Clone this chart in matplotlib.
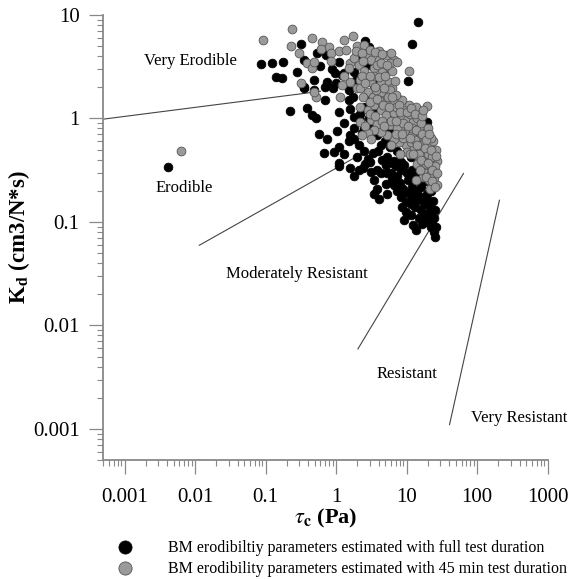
import matplotlib
matplotlib.use("Agg")
import matplotlib.pyplot as plt

plt.rcParams['font.family'] = ['Liberation Serif', 'DejaVu Serif']
plt.rcParams['mathtext.fontset'] = 'stix'

# ---- data: full test duration (black) ----
full_tau = [14.5, 11.8, 0.086, 0.125, 0.177, 0.14, 0.17, 0.32, 0.35, 0.53, 0.73, 0.88, 0.97, 1.3,
            0.49, 0.35, 0.75, 2.6, 2.9, 2.0, 2.8, 5.1, 3.85, 10.5, 1.9, 3.45, 1.23, 0.49,
            0.22, 0.39, 0.46, 0.52, 0.69, 1.1, 1.6, 1.76, 1.8, 2.2, 0.89, 0.35, 0.57, 0.75, 1.02,
            0.68, 0.94, 1.1, 1.8, 2.1, 2.8, 1.1, 2.9, 3.1, 3.85, 5.3, 7.4, 4.3, 5.9, 7.4, 5.3,
            9.2, 8.3, 11.4, 15.8, 19.5, 1.6, 2.5, 3.3, 5.1, 6.6, 1.8, 2.5, 1.5,
            1.1, 1.6, 1.8, 2.1, 2.6, 3.45, 3.85, 3.45, 4.1, 5.1, 5.3, 5.1, 5.3, 6.6, 7.4, 8.3,
            8.7, 9.7, 9.2, 11.4, 12.5, 13.5, 15.8, 17.5, 19.5, 20.6, 22.3, 24.5, 25.5, 24.5,
            21.8, 17.5, 14.2, 11.4, 9.7, 7.4, 8.3, 10.5, 14.2, 15.8, 19.5, 25.5, 4.3, 6.6, 9.2, 3.1,
            4.0, 6.0, 8.0, 12.0, 3.0, 5.0, 10.0, 13.0, 18.0, 20.0, 22.0, 16.0, 12.0,
            1.3, 1.5, 2.3, 1.3, 2.0, 2.4, 3.0, 3.8, 4.5, 3.9, 6.0, 7.0, 6.2, 8.0, 9.0, 10.5,
            12.0, 13.0, 15.0, 16.5, 18.5, 21.0, 23.0, 26.0, 24.0, 20.0, 11.0, 12.0, 16.0,
            0.7, 1.0, 1.5, 2.4, 1.8, 0.28, 0.6, 1.1, 2.2, 2.6, 3.4, 4.0, 5.0,
            0.0041]
full_kd = [8.5, 5.2, 3.35, 3.45, 3.53, 2.53, 2.44, 5.2, 3.7, 4.3, 4.1, 2.98, 2.73, 2.73,
           2.35, 2.0, 2.26, 5.6, 4.9, 4.1, 3.3, 2.9, 2.44, 2.3, 2.35, 2.1, 2.63, 1.88,
           1.18, 1.25, 1.08, 1.0, 1.5, 1.16, 1.23, 1.62, 1.04, 0.96, 1.95, 1.95, 0.70, 0.64, 0.75,
           0.46, 0.475, 0.53, 0.64, 0.56, 0.41, 0.37, 1.0, 0.8, 0.69, 1.0, 1.56, 0.55, 0.53, 0.49, 0.425,
           0.64, 0.38, 0.425, 0.39, 0.93, 0.69, 0.49, 0.46, 0.365, 0.39, 0.8, 0.8, 1.5,
           0.345, 0.335, 0.28, 0.315, 0.365, 0.253, 0.21, 0.188, 0.168, 0.235, 0.188, 0.353, 0.294, 0.226, 0.2, 0.174,
           0.14, 0.125, 0.104, 0.116, 0.093, 0.083, 0.13, 0.112, 0.12, 0.1, 0.089, 0.08, 0.071, 0.108,
           0.14, 0.15, 0.162, 0.15, 0.156, 0.28, 0.315, 0.253, 0.2, 0.174, 0.188, 0.13, 0.294, 0.365, 0.353, 0.305,
           1.3, 0.8, 0.6, 0.5, 1.6, 0.6, 0.3, 0.3, 0.25, 0.3, 0.2, 0.22, 0.22,
           0.9, 0.6, 0.72, 0.45, 0.42, 0.33, 0.38, 0.32, 0.4, 0.48, 0.3, 0.35, 0.26, 0.24, 0.21, 0.19,
           0.18, 0.14, 0.11, 0.095, 0.1, 0.12, 0.095, 0.09, 0.16, 0.16, 0.27, 0.32, 0.28,
           2.0, 2.2, 1.9, 2.3, 2.8, 2.8, 3.2, 3.5, 1.1, 1.3, 1.15, 0.9, 0.75,
           0.34]

# ---- data: 45 min test duration (gray) ----
m45_tau = [0.093, 0.24, 0.23, 0.46, 0.64, 0.8, 0.61, 0.84, 0.86, 0.3, 0.39, 0.46, 0.49, 0.32,
           1.3, 1.74, 2.0, 2.5, 1.6, 1.8, 1.5, 2.1, 2.8, 3.1, 4.1, 5.3, 6.6, 5.8, 4.8, 6.3, 3.45,
           2.5, 10.8, 1.6, 2.2, 3.1, 4.3, 5.6, 6.3, 2.0,
           0.52, 0.49, 1.14, 2.2, 2.8, 3.3, 4.3, 5.9, 5.1, 6.6, 8.7, 10.8, 13.5, 19.6, 2.2, 2.8,
           3.45, 4.3, 5.1, 6.6, 8.3, 10.2, 12.5, 15.8, 18.6, 2.2, 3.1, 3.85, 5.9, 8.3, 10.2, 12.0,
           14.6, 17.5, 21.8, 24.5, 19.5, 15.8, 12.5, 9.7, 7.8, 6.6, 5.3, 4.3, 3.45, 2.8, 2.35, 3.1,
           11.4, 13.9, 18.6, 21.8, 27.0, 10.2, 7.4,
           14.2, 17.5, 21.8, 25.5, 24.5, 20.6, 16.8, 13.5, 27.0, 21.8, 18.6,
           4.0, 7.0, 9.0, 11.0, 14.0, 16.0, 20.0, 6.0, 9.0, 12.0, 3.0, 4.5, 7.0, 9.0, 13.0, 16.0,
           20.0, 23.0, 11.0, 15.0, 17.0, 25.0, 22.0, 19.0, 3.5, 4.5, 2.3, 7.0, 3.7, 1.3, 5.5,
           24.0, 22.0, 26.0, 4.0, 3.0, 1.1, 1.2, 2.6, 6.0, 8.0,
           1.4, 1.9, 2.3, 3.6, 4.5, 6.0, 7.2, 2.4, 3.8, 4.4, 5.2, 3.0, 4.0, 5.0, 6.8, 2.6, 3.6,
           4.8, 2.4, 3.0, 3.8, 4.6, 5.6, 6.2, 7.8, 8.0, 10.0, 11.5, 13.0, 16.5, 17.0, 3.6, 4.8,
           7.0, 10.5, 13.5, 16.5, 19.0, 21.0, 8.5, 11.0, 14.0, 18.0, 22.5, 26.0, 12.5, 16.0,
           20.0, 23.0, 27.0, 15.5, 19.0, 23.0, 25.0,
           0.0063]
m45_kd = [5.7, 7.3, 5.0, 6.0, 5.5, 4.9, 4.7, 4.25, 3.6, 4.25, 3.4, 3.05, 3.55, 2.2,
          5.7, 6.2, 5.0, 5.1, 3.4, 3.8, 3.05, 3.3, 3.95, 3.7, 3.7, 4.1, 3.7, 3.4, 3.05, 2.9, 3.05,
          2.9, 2.9, 2.26, 2.35, 2.26, 2.26, 2.26, 1.95, 1.95,
          1.62, 1.8, 1.62, 1.95, 1.8, 1.62, 1.8, 1.88, 1.5, 1.45, 1.5, 1.35, 1.3, 1.32, 1.3, 1.2,
          1.35, 1.2, 1.08, 1.12, 1.04, 0.96, 0.93, 0.83, 0.74, 0.93, 0.96, 0.89, 0.86, 0.8, 0.74, 0.69,
          0.64, 0.59, 0.57, 0.475, 0.49, 0.51, 0.53, 0.55, 0.59, 0.64, 0.69, 0.74, 0.77, 0.72, 0.69, 0.64,
          0.59, 0.44, 0.41, 0.38, 0.39, 0.475, 0.8,
          0.365, 0.34, 0.353, 0.305, 0.263, 0.253, 0.27, 0.253, 0.226, 0.21, 0.294,
          1.5, 1.3, 1.2, 1.1, 1.0, 0.9, 0.8, 0.95, 0.9, 0.8, 1.1, 0.95, 0.7, 0.65, 0.62, 0.55,
          0.45, 0.42, 0.45, 0.45, 0.38, 0.35, 0.3, 0.36, 2.6, 2.8, 2.6, 1.7, 1.9, 2.6, 1.6,
          0.6, 0.65, 0.5, 4.5, 4.6, 4.5, 2.1, 0.85, 0.55, 0.45,
          4.6, 4.5, 4.3, 4.4, 4.2, 4.3, 3.5, 3.6, 3.3, 3.4, 3.3, 2.6, 2.5, 2.6, 2.3, 2.2, 2.0,
          1.95, 1.6, 1.45, 1.55, 1.35, 1.3, 1.6, 1.35, 1.15, 1.15, 1.25, 1.1, 1.05, 1.2, 1.05, 0.85,
          0.95, 0.85, 0.78, 0.7, 0.62, 0.7, 0.7, 0.65, 0.56, 0.52, 0.5, 0.43, 0.45, 0.4,
          0.37, 0.32, 0.3, 0.32, 0.27, 0.25, 0.22,
          0.49]

# ---- class boundary lines (tau, kd endpoints) ----
bound_tau = [[0.0005, 0.6], [0.0115, 2.63], [2.04, 64.0], [40.6, 207.0]]
bound_kd = [[0.985, 1.83], [0.0595, 0.48], [0.00593, 0.294], [0.0011, 0.162]]

# ---- class labels ----
class_names = ["Very Erodible", "Erodible", "Moderately Resistant", "Resistant", "Very Resistant"]
class_tau = [0.0086, 0.0070, 0.276, 10.1, 391.0]
class_kd = [3.59, 0.215, 0.0315, 0.0034, 0.00128]

legend_labels = ["BM erodibiltiy parameters estimated with full test duration",
                 "BM erodibility parameters estimated with 45 min test duration"]

fig = plt.figure(figsize=(5.79, 5.79), dpi=100)
ax = fig.add_axes([0.1784, 0.2055, 0.7675, 0.7686])

for bt, bk in zip(bound_tau, bound_kd):
    ax.plot(bt, bk, color='#444444', lw=0.8, zorder=1)

s_full = ax.scatter(full_tau, full_kd, s=40, c='black', edgecolors='black', linewidths=0.5, zorder=2)
s_45 = ax.scatter(m45_tau, m45_kd, s=40, c='#9a9a9a', edgecolors='#555555', linewidths=0.6, zorder=3)

for name, t, k in zip(class_names, class_tau, class_kd):
    ax.text(t, k, name, ha='center', va='center', fontsize=12)

ax.set_xscale('log')
ax.set_yscale('log')
ax.set_xlim(0.0005, 1000)
ax.set_ylim(0.0005, 10)

ax.set_xticks([0.001, 0.01, 0.1, 1, 10, 100, 1000])
ax.set_xticklabels(['0.001', '0.01', '0.1', '1', '10', '100', '1000'])
ax.set_yticks([0.001, 0.01, 0.1, 1, 10])
ax.set_yticklabels(['0.001', '0.01', '0.1', '1', '10'])

for sp in ['top', 'right']:
    ax.spines[sp].set_visible(False)
for sp in ['left', 'bottom']:
    ax.spines[sp].set_color('#888888')
    ax.spines[sp].set_linewidth(1.3)

ax.tick_params(which='major', length=10, width=0.9, color='#888888', labelsize=15)
ax.tick_params(which='minor', length=4.5, width=0.8, color='#888888')
ax.tick_params(axis='x', which='major', pad=10)
ax.tick_params(axis='y', which='major', pad=7)

ax.set_xlabel(r'$\tau_{\mathbf{c}}$ (Pa)', fontsize=16, fontweight='bold', labelpad=0)
ax.set_ylabel(r'K$_{\mathbf{d}}$ (cm3/N*s)', fontsize=16.5, fontweight='bold', labelpad=1)

fig.legend([s_full, s_45], legend_labels, loc='upper left', bbox_to_anchor=(0.181, 0.082),
           frameon=False, fontsize=11.5, markerscale=1.5, handletextpad=1.95,
           labelspacing=0.32, handlelength=1.5, borderpad=0)

fig.savefig('out.png', dpi=100)
